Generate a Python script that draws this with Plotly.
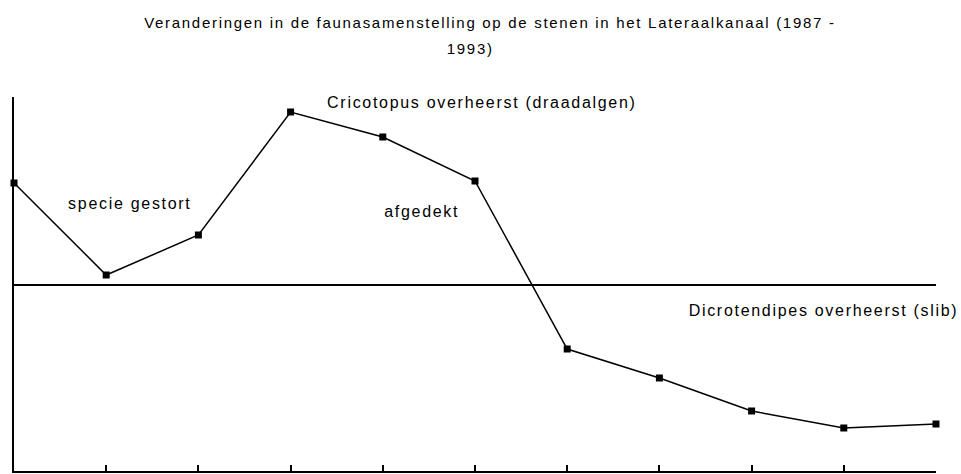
import plotly.graph_objects as go

samples = [1, 2, 3, 4, 5, 6, 7, 8, 9, 10, 11]
scores = [1.015, 0.095, 0.495, 1.725, 1.475, 1.035, -0.645, -0.935, -1.265, -1.435, -1.395]

title_line1 = "Veranderingen in de faunasamenstelling op de stenen in het Lateraalkanaal (1987 -"
title_line2 = "1993)"

labels = ["specie gestort", "Cricotopus overheerst (draadalgen)", "afgedekt",
          "Dicrotendipes overheerst (slib)"]
label_x = [2.253, 6.076, 5.425, 9.785]
label_y = [0.815, 1.825, 0.735, -0.255]

fig = go.Figure()
fig.add_trace(go.Scatter(
    x=samples, y=scores, mode="lines+markers",
    line=dict(color="black", width=1.5),
    marker=dict(symbol="square", size=7, color="black"),
    cliponaxis=False, showlegend=False, hoverinfo="skip",
))

fam = "Liberation Sans, Arial, sans-serif"
font = dict(family=fam, size=16, color="black")
for text, x, y in zip(labels, label_x, label_y):
    fig.add_annotation(x=x, y=y, text=text, showarrow=False, font=font,
                       xref="x", yref="y")

tfont = dict(family=fam, size=15, color="black")
fig.add_annotation(x=0.5163, y=1.2005, xref="paper", yref="paper", text=title_line1,
                   showarrow=False, font=tfont, yanchor="middle")
fig.add_annotation(x=0.4946, y=1.131, xref="paper", yref="paper", text=title_line2,
                   showarrow=False, font=tfont, yanchor="middle")

fig.update_layout(
    width=961, height=474,
    margin=dict(l=14, r=25, t=97, b=3),
    paper_bgcolor="white", plot_bgcolor="white",
    font=font,
)

fig.update_xaxes(range=[1, 11], showgrid=False, zeroline=False, showline=True,
                 linecolor="black", linewidth=2, ticks="inside", ticklen=6,
                 tickwidth=1.5, tickcolor="black", dtick=1, tick0=1,
                 showticklabels=False)
fig.update_yaxes(range=[-1.865, 1.875], showgrid=False, zeroline=True,
                 zerolinecolor="black", zerolinewidth=1.5, showline=True,
                 linecolor="black", linewidth=2, ticks="", showticklabels=False)

post = """
document.body.style.margin = '0';
document.body.style.overflow = 'hidden';
var gd = document.getElementById('{plot_id}');
gd.querySelectorAll('text.annotation-text').forEach(function(t){
  t.style.letterSpacing = '1.7px';
});
"""
fig.write_html("out.html", post_script=post, config={"displayModeBar": False})
